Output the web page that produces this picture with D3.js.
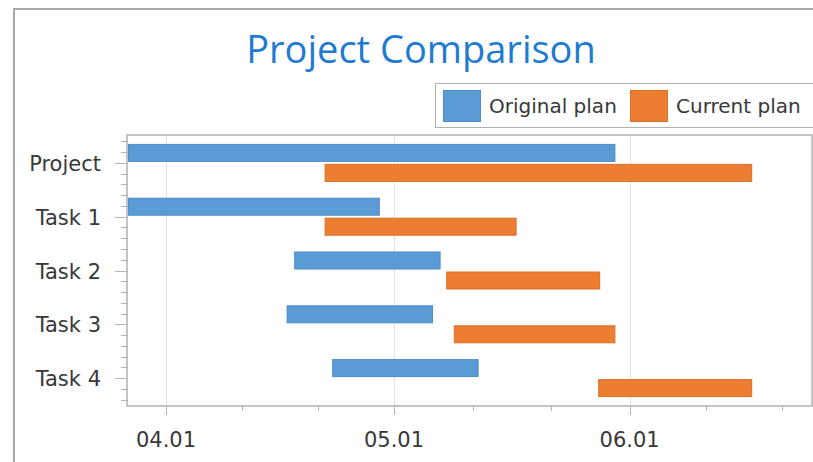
<!DOCTYPE html>
<html>
<head>
<meta charset="utf-8">
<script src="https://cdn.jsdelivr.net/npm/d3@7"></script>
<style>
  body { margin: 0; background: #fff; }
  svg { display: block; }
</style>
</head>
<body>
<div id="chart"></div>
<script>
// data
var categories = ["Project", "Task 1", "Task 2", "Task 3", "Task 4"];
var originalStart = ["2024-03-27", "2024-03-27", "2024-04-18", "2024-04-17", "2024-04-23"];
var originalEnd   = ["2024-05-30", "2024-04-29", "2024-05-07", "2024-05-06", "2024-05-12"];
var currentStart  = ["2024-04-22", "2024-04-22", "2024-05-08", "2024-05-09", "2024-05-28"];
var currentEnd    = ["2024-06-17", "2024-05-17", "2024-05-28", "2024-05-30", "2024-06-17"];
var seriesNames = ["Original plan", "Current plan"];
var axisRange = ["2024-03-27", "2024-06-25"];

var outWidth = 813, outHeight = 462;
var margin = {top: 136, right: 1, bottom: 57, left: 128};
var width = outWidth - margin.left - margin.right,
    height = outHeight - margin.top - margin.bottom;

var parse = d3.timeParse("%Y-%m-%d");
var colors = ["#5b9bd5", "#ed7d31"];
var strokes = ["#4d8cc6", "#d9702a"];
var labelFont = "Tahoma, 'DejaVu Sans', sans-serif";

var svg = d3.select("#chart").append("svg")
    .attr("width", outWidth)
    .attr("height", outHeight);

// outer chart border (runs off the right/bottom edges)
svg.append("rect")
    .attr("x", 14).attr("y", 9)
    .attr("width", outWidth + 20).attr("height", outHeight + 20)
    .style("fill", "none").style("stroke", "#a8a8a8").style("stroke-width", 2);

// title
svg.append("text")
    .attr("x", 421).attr("y", 63)
    .attr("text-anchor", "middle")
    .style("font-family", "'Open Sans', 'Noto Sans', sans-serif")
    .style("font-size", "38px")
    .style("fill", "#1f7bd1")
    .text("Project Comparison");

var g = svg.append("g")
    .attr("transform", "translate(" + margin.left + "," + margin.top + ")");

// scales
var xScale = d3.scaleTime()
    .domain(axisRange.map(parse))
    .range([0, width]);
var yScale = d3.scaleBand()
    .domain(categories)
    .range([0, height]);
var step = yScale.step();

// grid
var months = xScale.ticks(d3.timeMonth.every(1));
g.selectAll(".grid").data(months).enter().append("line")
    .attr("class", "grid")
    .attr("x1", d => Math.round(xScale(d)) + 0.5)
    .attr("x2", d => Math.round(xScale(d)) + 0.5)
    .attr("y1", 0).attr("y2", height)
    .style("stroke", "#e3e3e3");

// bars
var rows = categories.map(function(c, i) {
  return {cat: c,
    bars: [{s: 0, a: parse(originalStart[i]), b: parse(originalEnd[i])},
           {s: 1, a: parse(currentStart[i]), b: parse(currentEnd[i])}]};
});
var barH = 18, gap = 2;
var rowG = g.selectAll(".row").data(rows).enter().append("g")
    .attr("transform", d => "translate(0," + (yScale(d.cat) + step / 2) + ")");
rowG.selectAll("rect").data(d => d.bars).enter().append("rect")
    .attr("x", d => Math.max(xScale(d.a) - 0.5, 0.5))
    .attr("y", d => d.s === 0 ? -barH - gap / 2 + 0.5 : gap / 2 + 0.5)
    .attr("width", d => xScale(d.b) - Math.max(xScale(d.a) - 0.5, 0.5) + 0.5)
    .attr("height", barH - 1)
    .style("fill", d => colors[d.s])
    .style("stroke", d => strokes[d.s])
    .style("stroke-width", 1);

// plot frame
g.append("rect")
    .attr("x", -1).attr("y", -1)
    .attr("width", width + 1).attr("height", height + 2)
    .style("fill", "none").style("stroke", "#c4c4c4").style("stroke-width", 2);

// x axis ticks
var minor = [];
d3.timeMonth.range(d3.timeMonth.floor(xScale.domain()[0]), xScale.domain()[1]).forEach(function(m) {
  var next = d3.timeMonth.offset(m, 1);
  [1, 2].forEach(function(k) {
    var t = new Date(+m + (next - m) * k / 3);
    if (t >= xScale.domain()[0] && t <= xScale.domain()[1]) minor.push(t);
  });
});
var xAxisG = g.append("g").attr("transform", "translate(0," + height + ")");
xAxisG.selectAll(".minor").data(minor).enter().append("line")
    .attr("x1", d => Math.round(xScale(d)) + 0.5).attr("x2", d => Math.round(xScale(d)) + 0.5)
    .attr("y1", 0).attr("y2", 6)
    .style("stroke", "#b4b4b4");
xAxisG.selectAll(".major").data(months).enter().append("line")
    .attr("x1", d => Math.round(xScale(d)) + 0.5).attr("x2", d => Math.round(xScale(d)) + 0.5)
    .attr("y1", 0).attr("y2", 10)
    .style("stroke", "#b4b4b4");
xAxisG.selectAll("text").data(months).enter().append("text")
    .attr("x", d => xScale(d))
    .attr("y", 42)
    .attr("text-anchor", "middle")
    .style("font-family", labelFont)
    .style("font-size", "21px")
    .style("fill", "#383838")
    .text(d3.timeFormat("%m.%d"));

// y axis ticks
var yMinor = [];
categories.forEach(function(c) {
  [-2, -1, 1, 2].forEach(function(k) { yMinor.push(yScale(c) + step / 2 + k * step / 5); });
});
var yAxisG = g.append("g");
yAxisG.selectAll(".minor").data(yMinor).enter().append("line")
    .attr("x1", -7).attr("x2", 0)
    .attr("y1", d => Math.round(d) + 0.5).attr("y2", d => Math.round(d) + 0.5)
    .style("stroke", "#b4b4b4");
yAxisG.selectAll(".major").data(categories).enter().append("line")
    .attr("x1", -13).attr("x2", 0)
    .attr("y1", d => Math.round(yScale(d) + step / 2) + 0.5)
    .attr("y2", d => Math.round(yScale(d) + step / 2) + 0.5)
    .style("stroke", "#b4b4b4");
yAxisG.selectAll("text").data(categories).enter().append("text")
    .attr("x", -27)
    .attr("y", d => yScale(d) + step / 2 + 8)
    .attr("text-anchor", "end")
    .style("font-family", labelFont)
    .style("font-size", "21px")
    .style("fill", "#383838")
    .text(d => d);

// legend (clipped at right edge like the original)
var legend = svg.append("g").attr("transform", "translate(435,83)");
legend.append("rect")
    .attr("x", 0.5).attr("y", 0.5).attr("width", 420).attr("height", 44)
    .style("fill", "#fff").style("stroke", "#b0b0b0");
var legX = [8, 195];
var item = legend.selectAll(".item").data(seriesNames).enter().append("g")
    .attr("transform", (d, i) => "translate(" + legX[i] + ",7)");
item.append("rect")
    .attr("x", 0.5).attr("y", 0.5).attr("width", 37).attr("height", 31)
    .style("fill", (d, i) => colors[i])
    .style("stroke", (d, i) => strokes[i]);
item.append("text")
    .attr("x", 46).attr("y", 23)
    .style("font-family", labelFont)
    .style("font-size", "20px")
    .style("fill", "#383838")
    .text(d => d);
</script>
</body>
</html>
